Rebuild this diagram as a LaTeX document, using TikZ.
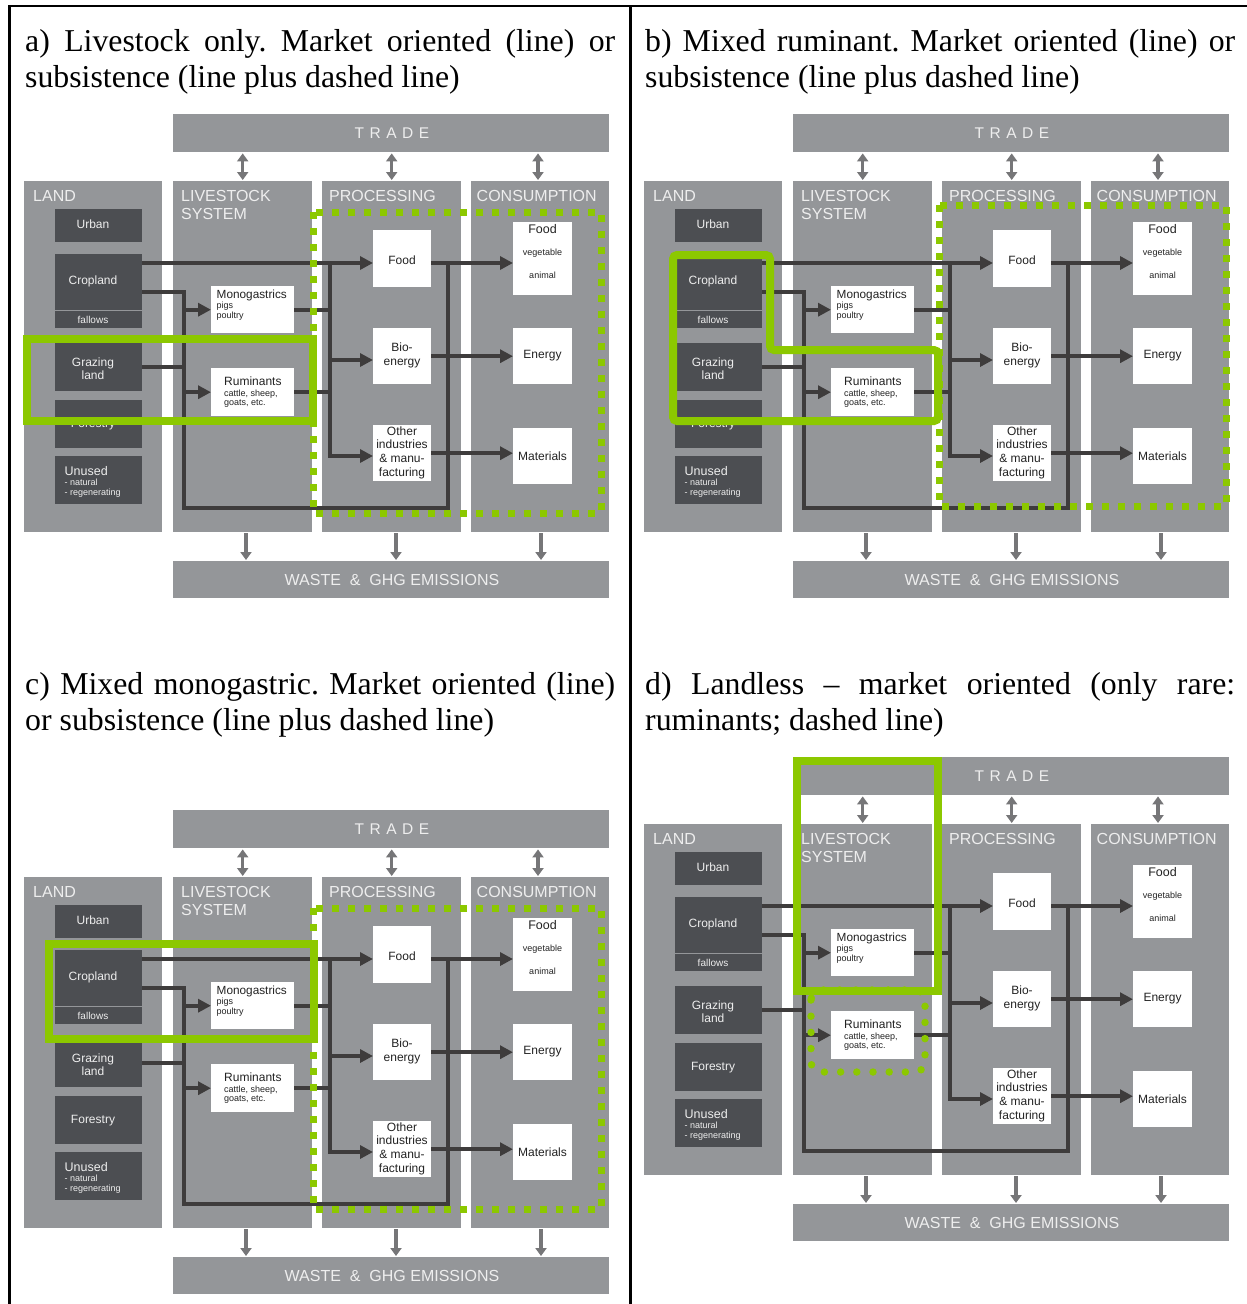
\documentclass[tikz,border=0pt]{standalone}
\usepackage{fontspec}
\setmainfont{Liberation Serif}
\newfontfamily\dsans{Liberation Sans}
\usetikzlibrary{arrows.meta}
\frenchspacing
\definecolor{colgray}{RGB}{148,150,153}
\definecolor{darkbox}{RGB}{76,78,82}
\definecolor{flowc}{RGB}{62,60,60}
\definecolor{hdtext}{RGB}{238,238,238}
\definecolor{tradearr}{RGB}{118,118,120}
\definecolor{lime}{RGB}{140,200,0}
\definecolor{boxtext}{RGB}{35,35,35}
\tikzset{
  colbox/.style={fill=colgray,draw=none,inner sep=0pt,anchor=north west},
  darkbx/.style={fill=darkbox,draw=none,inner sep=0pt,anchor=north west,minimum width=87pt},
  whitebx/.style={fill=white,draw=none,inner sep=0pt,anchor=north west},
  flow/.style={draw=flowc,line width=4.4pt},
  flowarrow/.style={flow,-{Triangle[length=13pt,width=13pt]}},
  tarr/.style={draw=tradearr,line width=3.2pt,{Triangle[length=8pt,width=11pt]}-{Triangle[length=8pt,width=11pt]},shorten <=1pt,shorten >=1pt},
  warr/.style={draw=tradearr,line width=3.2pt,-{Triangle[length=8pt,width=11pt]},shorten <=1pt,shorten >=1pt},
  hdr/.style={anchor=base west,inner sep=0pt,text=hdtext,font=\dsans\fontsize{16}{18}\selectfont},
  bandt/.style={inner sep=0pt,text=hdtext,font=\dsans\fontsize{15.5}{18}\selectfont},
  lbl/.style={inner sep=0pt,text=hdtext,align=center,font=\dsans\fontsize{12}{13.5}\selectfont,text height=8.8pt,text depth=2.5pt},
  lbltwo/.style={inner sep=0pt,text=hdtext,align=center,font=\dsans\fontsize{12}{13.5}\selectfont},
  lblsm/.style={inner sep=0pt,text=hdtext,font=\dsans\fontsize{10}{12}\selectfont},
  lblb/.style={anchor=base west,inner sep=0pt,text=hdtext,font=\dsans\fontsize{12.5}{14}\selectfont},
  lblbs/.style={anchor=base west,inner sep=0pt,text=hdtext,font=\dsans\fontsize{9}{10}\selectfont},
  wtb/.style={anchor=base west,inner sep=0pt,text=boxtext,font=\dsans\fontsize{11.8}{13}\selectfont},
  wts/.style={anchor=base west,inner sep=0pt,text=boxtext,font=\dsans\fontsize{9}{10}\selectfont},
  wtc/.style={inner sep=0pt,text=boxtext,align=center,font=\dsans\fontsize{12}{13.6}\selectfont},
  wtcs/.style={inner sep=0pt,text=boxtext,font=\dsans\fontsize{9}{10}\selectfont},
  titletext/.style={anchor=base west,inner sep=0pt,font=\fontsize{31.8}{36}\selectfont},
  solidhl/.style={draw=lime,line width=8pt},
  squaredots/.style={draw=lime,line width=7pt,dash pattern=on 7pt off 9pt},
  rounddots/.style={draw=lime,line width=7.5pt,line cap=round,dash pattern=on 0pt off 16.2pt},
}
\newcommand\livediagram[1]{%
  \node[colbox,minimum width=436pt,minimum height=38pt] (#1trade) at (173,114) {};
  \node[colbox,minimum width=138pt,minimum height=351pt] (#1land) at (24,181) {};
  \node[colbox,minimum width=139pt,minimum height=351pt] (#1live) at (173,181) {};
  \node[colbox,minimum width=139pt,minimum height=351pt] (#1proc) at (322,181) {};
  \node[colbox,minimum width=138pt,minimum height=351pt] (#1cons) at (471,181) {};
  \node[colbox,minimum width=436pt,minimum height=37pt] (#1waste) at (173,561) {};
  \node[darkbx,minimum height=33pt] (#1urban) at (55,209) {};
  \node[darkbx,minimum height=56pt] (#1crop) at (55,254) {};
  \node[darkbx,minimum height=17pt] (#1fallow) at (55,311) {};
  \node[darkbx,minimum height=48pt] (#1graz) at (55,343) {};
  \node[darkbx,minimum height=48pt] (#1forest) at (55,400) {};
  \node[darkbx,minimum height=48pt] (#1unused) at (55,456) {};
  \node[whitebx,minimum width=83pt,minimum height=47pt] (#1mono) at (211,286) {};
  \node[whitebx,minimum width=83pt,minimum height=48pt] (#1rum) at (211,368) {};
  \node[whitebx,minimum width=58pt,minimum height=57pt] (#1pfood) at (373,230) {};
  \node[whitebx,minimum width=58pt,minimum height=56pt] (#1bio) at (373,328) {};
  \node[whitebx,minimum width=58pt,minimum height=56pt] (#1other) at (373,425) {};
  \node[whitebx,minimum width=59pt,minimum height=73pt] (#1cfood) at (513,222) {};
  \node[whitebx,minimum width=59pt,minimum height=56pt] (#1energy) at (513,328) {};
  \node[whitebx,minimum width=59pt,minimum height=56pt] (#1mat) at (513,428) {};
  % bus coordinates
  \coordinate (#1busA) at (184,292);
  \coordinate (#1busB) at (184,508);
  \coordinate (#1busC) at (448,508);
  \coordinate (#1busD) at (448,263);
  \coordinate (#1busE) at (330,263);
  \coordinate (#1busF) at (330,456);
  \coordinate (#1busG) at (330,360);
  \coordinate (#1w1) at (246,532);
  \coordinate (#1w2) at (396,532);
  \coordinate (#1w3) at (541,532);
  % trade / waste arrows
  \draw[tarr] (#1trade.south -| #1live.north) -- (#1live.north);
  \draw[tarr] (#1trade.south -| #1proc.north) -- (#1proc.north);
  \draw[tarr] (#1trade.south -| 538,0) -- (538,181);
  \draw[warr] (#1w1) -- (#1w1 |- #1waste.north);
  \draw[warr] (#1w2) -- (#1w2 |- #1waste.north);
  \draw[warr] (#1w3) -- (#1w3 |- #1waste.north);
  % flows
  \draw[flowarrow] (#1crop.east |- #1busE) -- (#1pfood.west |- #1busE);
  \draw[flow] (#1crop.east |- #1busA) -- (#1busA) -- (#1busB) -- (#1busC) -- (#1busD);
  \draw[flow] (#1graz.east) -- (#1graz.east -| #1busA);
  \draw[flowarrow] (#1busA |- #1mono.west) -- (#1mono.west);
  \draw[flowarrow] (#1busA |- #1rum.west) -- (#1rum.west);
  \draw[flow] (#1mono.east) -- (#1mono.east -| #1busE);
  \draw[flow] (#1rum.east) -- (#1rum.east -| #1busE);
  \draw[flowarrow] (#1busE) -- (#1busF) -- (#1busF -| #1other.west);
  \draw[flowarrow] (#1busG) -- (#1busG -| #1bio.west);
  \draw[flowarrow] (#1pfood.east |- #1busD) -- (#1cfood.west |- #1busD);
  \draw[flowarrow] (#1bio.east) -- (#1energy.west);
  \draw[flowarrow] (#1other.east) -- (#1other.east -| #1mat.west);
  % texts
  \node[bandt] (#1tradet) at (392,133) {T\hspace{5.5pt}R\hspace{5.5pt}A\hspace{5.5pt}D\hspace{5.5pt}E};
  \node[bandt,font=\dsans\fontsize{16}{18}\selectfont] (#1wastet) at (392,580) {WASTE\ \ \&\ \ GHG EMISSIONS};
  \node[hdr] (#1landt) at (33,201.5) {LAND};
  \node[hdr] (#1livet) at (181,201.5) {LIVESTOCK};
  \node[hdr] (#1livet2) at (181,219.5) {SYSTEM};
  \node[hdr] (#1proct) at (329,201.5) {PROCESSING};
  \node[hdr] (#1const) at (476.5,201.5) {CONSUMPTION};
  \node[lbl] (#1urbant) at (93,225.5) {Urban};
  \node[lbl] (#1cropt) at (93,281) {Cropland};
  \node[lblsm] (#1fallowt) at (93,319.5) {fallows};
  \node[lbltwo] (#1grazt) at (93,368.5) {Grazing\\land};
  \node[lbl] (#1forestt) at (93,424) {Forestry};
  \node[lblb] (#1unusedt) at (64.5,475) {Unused};
  \node[lblbs] (#1unusedt2) at (64.5,485.5) {- natural};
  \node[lblbs] (#1unusedt3) at (64.5,495.5) {- regenerating};
  \node[wtb] (#1monot) at (216.5,298.5) {Monogastrics};
  \node[wts] (#1monot2) at (216.5,308.5) {pigs};
  \node[wts] (#1monot3) at (216.5,318.5) {poultry};
  \node[wtb,font=\dsans\fontsize{12}{13}\selectfont] (#1rumt) at (224,385) {Ruminants};
  \node[wts] (#1rumt2) at (224,396) {cattle, sheep,};
  \node[wts] (#1rumt3) at (224,405.5) {goats, etc.};
  \node[wtc] (#1pfoodt) at (402,260) {Food};
  \node[wtc] (#1biot) at (402,355.5) {Bio-\\energy};
  \node[wtc] (#1othert) at (402,452.5) {Other\\industries\\\& manu-\\facturing};
  \node[wtc,font=\dsans\fontsize{12.5}{14}\selectfont] (#1cfoodt) at (542.5,229.5) {Food};
  \node[wtcs] (#1cfoodt2) at (542.5,253) {vegetable};
  \node[wtcs] (#1cfoodt3) at (542.5,275.5) {animal};
  \node[wtc] (#1energyt) at (542.5,356) {Energy};
  \node[wtc] (#1matt) at (542.5,456.5) {Materials};
}
\begin{document}
\begin{tikzpicture}[x=1pt,y=-1pt]
\useasboundingbox (0,0) rectangle (1247,1304);
\fill[white] (0,0) rectangle (1247,1304);
% frame
\draw[line width=2.4pt] (9.5,1304) -- (9.5,6) -- (1247,6);
\draw[line width=2.4pt] (630.5,6) -- (630.5,1304);
% titles
\node[titletext] (ta1) at (25,51.5) {\makebox[590pt][s]{a) Livestock only. Market oriented (line) or}};
\node[titletext] (ta2) at (25,87.5) {subsistence (line plus dashed line)};
\node[titletext] (tb1) at (645,51.5) {\makebox[590pt][s]{b) Mixed ruminant. Market oriented (line) or}};
\node[titletext] (tb2) at (645,87.5) {subsistence (line plus dashed line)};
\node[titletext] (tc1) at (25,694.5) {\makebox[590pt][s]{c) Mixed monogastric. Market oriented (line)}};
\node[titletext] (tc2) at (25,730.5) {or subsistence (line plus dashed line)};
\node[titletext] (td1) at (645,694.5) {\makebox[590pt][s]{d) Landless – market oriented (only rare:}};
\node[titletext] (td2) at (645,730.5) {ruminants; dashed line)};
% diagrams
\begin{scope}[shift={(0,0)}]\livediagram{a}\end{scope}
\begin{scope}[shift={(620,0)}]\livediagram{b}\end{scope}
\begin{scope}[shift={(0,696)}]\livediagram{c}\end{scope}
\begin{scope}[shift={(620,643)}]\livediagram{d}\end{scope}
% highlights panel a
\draw[squaredots] (313,212) rectangle (601,513);
\draw[solidhl] (26.5,339) rectangle (313,421);
% panel b
\draw[squaredots] (939,205) rectangle (1226,506);
\draw[solidhl,rounded corners=4pt] (673,255) -- (770,255) -- (770,350) -- (938,350) -- (938,421) -- (673,421) -- cycle;
% panel c
\draw[squaredots] (313,908) rectangle (601,1209);
\draw[solidhl] (49,944) rectangle (314,1039);
% panel d
\draw[rounddots,rounded corners=10pt] (811,990) rectangle (925,1072);
\draw[solidhl] (797,761) rectangle (938,991);
\end{tikzpicture}
\end{document}
